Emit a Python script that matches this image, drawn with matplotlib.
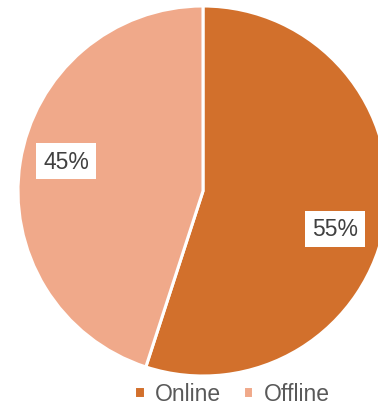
import matplotlib.pyplot as plt

labels = ['Online', 'Offline']
shares = [55, 45]
colors = ['#D2702C', '#F0A98A']
label_pos = [(0.715, -0.205), (-0.74, 0.162)]

plt.rcParams['font.family'] = ['Liberation Sans', 'DejaVu Sans']

fig = plt.figure(figsize=(3.78, 4.06), dpi=100)
W, H = 378, 406
cx, cy, r = 203, 192, 185
ax = fig.add_axes([(cx - r) / W, (H - cy - r) / H, 2 * r / W, 2 * r / H])

wedges, texts, autotexts = ax.pie(
    shares, colors=colors, startangle=90, counterclock=False,
    autopct='%d%%', pctdistance=0.76,
    wedgeprops=dict(edgecolor='white', linewidth=2.2),
    textprops=dict(fontsize=16.5, color='#404040'),
)
for w in wedges:
    w.set_clip_on(False)
for t, pos in zip(autotexts, label_pos):
    t.set_position(pos)
    t.set_bbox(dict(facecolor='white', edgecolor='none', pad=5))

ax.set_xlim(-1, 1)
ax.set_ylim(-1, 1)
ax.set_aspect('auto')
ax.axis('off')

fig.legend(wedges, labels, loc='center', bbox_to_anchor=(232 / W, 1 - 395 / H),
           ncol=2, frameon=False, fontsize=16.5, labelcolor='#595959',
           handlelength=0.45, handleheight=0.45, handletextpad=0.45,
           columnspacing=0.95)

fig.savefig('out.png', dpi=100)
